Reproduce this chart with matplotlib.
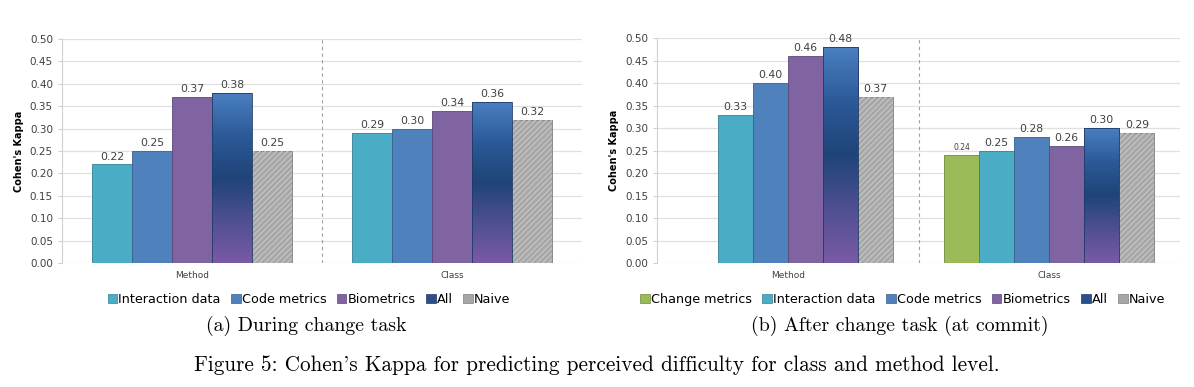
import numpy as np
import matplotlib.pyplot as plt
from matplotlib.colors import LinearSegmentedColormap
from matplotlib.patches import Patch

# Data
levels = ["Method", "Class"]

# (a) during change task
a_series = ["Interaction data", "Code metrics", "Biometrics", "All", "Naive"]
a_interaction = [0.22, 0.29]
a_code = [0.25, 0.30]
a_bio = [0.37, 0.34]
a_all = [0.38, 0.36]
a_naive = [0.25, 0.32]

# (b) after change task (at commit); no change metrics at method level
b_series = ["Change metrics", "Interaction data", "Code metrics", "Biometrics", "All", "Naive"]
b_change = [np.nan, 0.24]
b_interaction = [0.33, 0.25]
b_code = [0.40, 0.28]
b_bio = [0.46, 0.26]
b_all = [0.48, 0.30]
b_naive = [0.37, 0.29]

colors = {
    "Change metrics": "#9bbb59",
    "Interaction data": "#4bacc6",
    "Code metrics": "#4f81bd",
    "Biometrics": "#8064a2",
    "All": "#2b4f8a",
    "Naive": "#a6a6a6",
}
edges = {
    "Change metrics": "#6f8a3c",
    "Interaction data": "#357f94",
    "Code metrics": "#3a5f8c",
    "Biometrics": "#5c4878",
    "All": "#1f3a66",
    "Naive": "#808080",
}
all_cmap = LinearSegmentedColormap.from_list(
    "allgrad", ["#7a5aa4", "#4e4f92", "#1f4478", "#2c5a98", "#4a7fc0"])

plt.rcParams['font.family'] = ['DejaVu Sans']
fig = plt.figure(figsize=(11.94, 3.87), dpi=100)


def draw_panel(ax, names, values, width, legend_x, label_small=None):
    x = np.arange(len(levels))
    n = len(names)
    for i, (name, vals) in enumerate(zip(names, values)):
        pos = x + (i - (n - 1) / 2) * width
        if name == "Naive":
            bars = ax.bar(pos, vals, width, color=colors[name], edgecolor=edges[name],
                          linewidth=0.6, zorder=3)
            ax.bar(pos, vals, width, facecolor='none', edgecolor='#c2c2c2',
                   hatch='//////', linewidth=0, zorder=3.5)
        elif name == "All":
            bars = ax.bar(pos, vals, width, color='none', edgecolor=edges[name],
                          linewidth=0.6, zorder=4)
            for rect in bars:
                h = rect.get_height()
                if np.isnan(h):
                    continue
                grad = np.linspace(0, 1, 100).reshape(-1, 1)
                im = ax.imshow(grad, cmap=all_cmap, origin='lower', aspect='auto',
                               extent=[rect.get_x(), rect.get_x() + rect.get_width(), 0, h],
                               zorder=3)
                im.set_clip_path(rect)
        else:
            bars = ax.bar(pos, vals, width, color=colors[name], edgecolor=edges[name],
                          linewidth=0.6, zorder=3)
        labels = ["" if np.isnan(v) else f"{v:.2f}" for v in vals]
        fs = 7.8
        if label_small is not None and name == label_small:
            fs = 5.5
        ax.bar_label(bars, labels=labels, padding=2, fontsize=fs, color='#404040')

    ax.set_xlim(-0.5, 1.5)
    ax.set_ylim(0, 0.5)
    ax.set_yticks(np.arange(0, 0.501, 0.05))
    ax.set_yticklabels([f"{v:.2f}" for v in np.arange(0, 0.501, 0.05)])
    ax.set_xticks(x)
    ax.set_xticklabels(levels)
    ax.tick_params(axis='x', length=0, labelsize=6.5, labelcolor='#404040', pad=6)
    ax.tick_params(axis='y', length=3, color='#d0d0d0', labelsize=7.5, labelcolor='#404040')
    ax.grid(axis='y', color='#e0e0e0', linewidth=0.9, zorder=0)
    ax.set_axisbelow(True)
    for s in ['top', 'right', 'bottom']:
        ax.spines[s].set_visible(False)
    ax.spines['left'].set_color('#d0d0d0')
    ax.axvline(0.5, color='#a0a0a0', linestyle=(0, (3, 3)), linewidth=0.8, zorder=1)
    ax.set_ylabel("Cohen's Kappa", fontsize=7, fontweight='bold', labelpad=4)

    handles = [Patch(facecolor=colors[nm], edgecolor=edges[nm], linewidth=0.5) for nm in names]
    ax.legend(handles, names, loc='upper center', bbox_to_anchor=(legend_x, -0.11), ncol=n,
              frameon=False, fontsize=9.2, handlelength=0.75, handleheight=0.75,
              handletextpad=0.1, columnspacing=0.8, borderaxespad=0)


ax1 = fig.add_axes([0.0519, 0.3204, 0.4355, 0.5788])
draw_panel(ax1, a_series, [a_interaction, a_code, a_bio, a_all, a_naive], 0.1538, 0.475)

ax2 = fig.add_axes([0.5503, 0.3204, 0.4380, 0.5814])
draw_panel(ax2, b_series, [b_change, b_interaction, b_code, b_bio, b_all, b_naive], 0.134, 0.47,
           label_small="Change metrics")

sub = dict(fontsize=14.3, family=['cmr10', 'DejaVu Serif'], ha='center', va='center')
fig.text(0.2563, 0.158, "(a) During change task", **sub)
fig.text(0.7538, 0.158, "(b) After change task (at commit)", **sub)
fig.text(0.5, 0.057, "Figure 5: Cohen's Kappa for predicting perceived difficulty for class and method level.",
         fontsize=15.3, family=['cmr10', 'DejaVu Serif'], ha='center', va='center')

plt.savefig('out.png', dpi=100)
